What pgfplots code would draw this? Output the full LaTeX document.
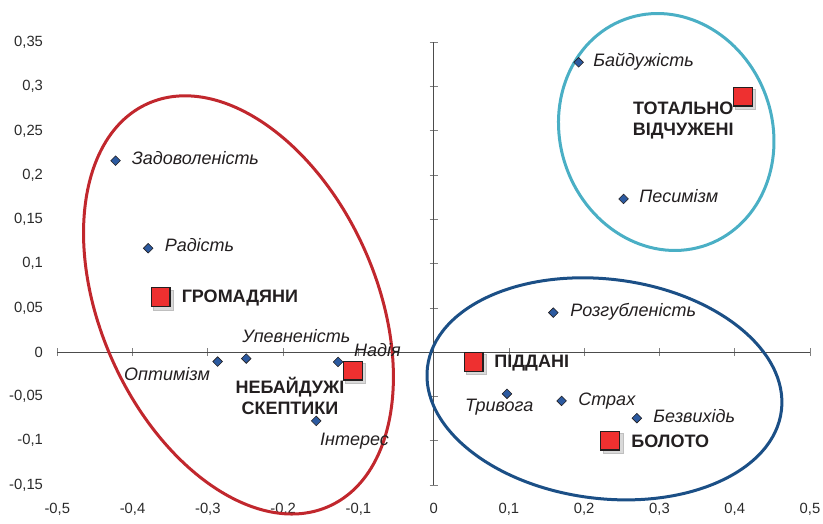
\documentclass[border=0pt]{standalone}
\usepackage{fontspec}
\setmainfont{Liberation Sans}
\usepackage{pgfplots}
\pgfplotsset{compat=1.18}
\definecolor{ellred}{HTML}{C1272D}
\definecolor{ellblue}{HTML}{1B4F86}
\definecolor{ellcyan}{HTML}{4AAFC5}
\definecolor{ptblue}{HTML}{2C5AA0}
\definecolor{sqred}{HTML}{EE3030}
\definecolor{tickgray}{HTML}{2A2A2A}
\definecolor{txt}{HTML}{231F20}
\tikzset{
  lbl/.style={font=\itshape\fontsize{18}{21}\selectfont, text=txt, inner sep=0pt, text height=0.72em, text depth=0pt},
  blbl/.style={font=\bfseries\fontsize{18}{20.7}\selectfont, text=txt, inner sep=0pt, align=center},
}
\begin{document}
\begin{tikzpicture}
\useasboundingbox (0,0) rectangle (823pt,523pt);
% axis 1: tick labels on the edges
\begin{axis}[
  at={(57.3pt,38pt)}, anchor=south west, scale only axis,
  width=752.7pt, height=442.7pt,
  xmin=-0.5, xmax=0.5, ymin=-0.15, ymax=0.35,
  axis x line*=bottom, axis y line*=left,
  axis line style={draw=none}, major tick length=0pt,
  xtick={-0.5,-0.4,-0.3,-0.2,-0.1,0,0.1,0.2,0.3,0.4,0.5},
  xticklabels={{-0,5},{-0,4},{-0,3},{-0,2},{-0,1},{0},{0,1},{0,2},{0,3},{0,4},{0,5}},
  ytick={-0.15,-0.1,-0.05,0,0.05,0.1,0.15,0.2,0.25,0.3,0.35},
  yticklabels={{-0,15},{-0,1},{-0,05},{0},{0,05},{0,1},{0,15},{0,2},{0,25},{0,3},{0,35}},
  yticklabel style={font=\fontsize{14.8}{17}\selectfont, text=tickgray, xshift=-10.8pt},
  xticklabel style={font=\fontsize{14.8}{17}\selectfont, text=tickgray, yshift=-15pt},
]
\addplot[draw=none] coordinates {(0,0)};
\end{axis}
% axis 2: middle axes with ticks and data
\begin{axis}[
  at={(57.3pt,38pt)}, anchor=south west, scale only axis,
  width=752.7pt, height=442.7pt,
  xmin=-0.5, xmax=0.5, ymin=-0.15, ymax=0.35,
  axis lines=middle, clip=false,
  axis line style={-, black!70, line width=0.8pt},
  xtick={-0.5,-0.4,-0.3,-0.2,-0.1,0,0.1,0.2,0.3,0.4,0.5},
  ytick={-0.15,-0.1,-0.05,0,0.05,0.1,0.15,0.2,0.25,0.3,0.35},
  xticklabels={}, yticklabels={},
  tick align=center, major tick length=8pt,
  tick style={black!50, line width=0.8pt},
]
% ellipses
\draw[ellred, line width=3pt, rotate around={24.3:(axis cs:-0.2593,0.0534)}]
  (axis cs:-0.2593,0.0534) ellipse [x radius=137.7pt, y radius=220.8pt];
\draw[ellblue, line width=3pt, rotate around={-7:(axis cs:0.2269,-0.0414)}]
  (axis cs:0.2269,-0.0414) ellipse [x radius=178.3pt, y radius=109.7pt];
\draw[ellcyan, line width=3pt, rotate around={20:(axis cs:0.309,0.2487)}]
  (axis cs:0.309,0.2487) ellipse [x radius=106pt, y radius=120pt];
% points
\addplot[only marks, mark=square*, mark size=3.4pt,
  mark options={rotate=45, fill=ptblue, draw=txt, line width=0.6pt}]
  coordinates {
  (0.1926,0.3274) (0.2523,0.1731) (-0.4226,0.2163) (-0.3792,0.1174)
  (0.159,0.0447) (0.0974,-0.047) (0.170,-0.055) (0.270,-0.0745)
  (-0.287,-0.0106) (-0.249,-0.0072) (-0.127,-0.011) (-0.156,-0.0776)
  };
% point labels
\node[lbl, anchor=west] at (axis cs:0.2120,0.3266) {Байдужість};
\node[lbl, anchor=west] at (axis cs:0.2731,0.1731) {Песимізм};
\node[lbl, anchor=west] at (axis cs:-0.4013,0.2157) {Задоволеність};
\node[lbl, anchor=west] at (axis cs:-0.3575,0.1178) {Радість};
\node[lbl, anchor=west] at (axis cs:0.1815,0.0444) {Розгубленість};
\node[lbl, anchor=west] at (axis cs:0.1921,-0.0561) {Страх};
\node[lbl, anchor=west] at (axis cs:0.2916,-0.0753) {Безвихідь};
\node[lbl] at (axis cs:0.0871,-0.0629) {Тривога};
\node[lbl] at (axis cs:-0.3542,-0.0279) {Оптимізм};
\node[lbl] at (axis cs:-0.1823,0.0150) {Упевненість};
\node[lbl] at (axis cs:-0.0747,-0.0005) {Надія};
\node[lbl] at (axis cs:-0.1052,-0.1009) {Інтерес};
% cluster labels
\node[blbl, anchor=west] at (axis cs:-0.3349,0.0616) {ГРОМАДЯНИ};
\node[blbl, anchor=west] at (axis cs:0.0805,-0.0124) {ПІДДАНІ};
\node[blbl, anchor=west] at (axis cs:0.2624,-0.1009) {БОЛОТО};
\node[blbl] at (axis cs:-0.1909,-0.0493) {НЕБАЙДУЖІ\\СКЕПТИКИ};
\node[blbl] at (axis cs:0.3315,0.2617) {ТОТАЛЬНО\\ВІДЧУЖЕНІ};
% cluster squares: soft shadow then squares
\addplot[only marks, mark=square*, mark size=10pt, color=black!25,
  mark options={xshift=2.5pt, yshift=-2.5pt, draw=none, fill=black!25, fill opacity=0.6}]
  coordinates {(-0.3628,0.0621) (-0.1075,-0.0208) (0.0531,-0.0113) (0.2346,-0.0998) (0.4107,0.2886)};
\addplot[only marks, mark=square*, mark size=9.4pt,
  mark options={fill=sqred, draw=txt, line width=1.2pt}]
  coordinates {(-0.3628,0.0621) (-0.1075,-0.0208) (0.0531,-0.0113) (0.2346,-0.0998) (0.4107,0.2886)};
\end{axis}
\end{tikzpicture}
\end{document}
